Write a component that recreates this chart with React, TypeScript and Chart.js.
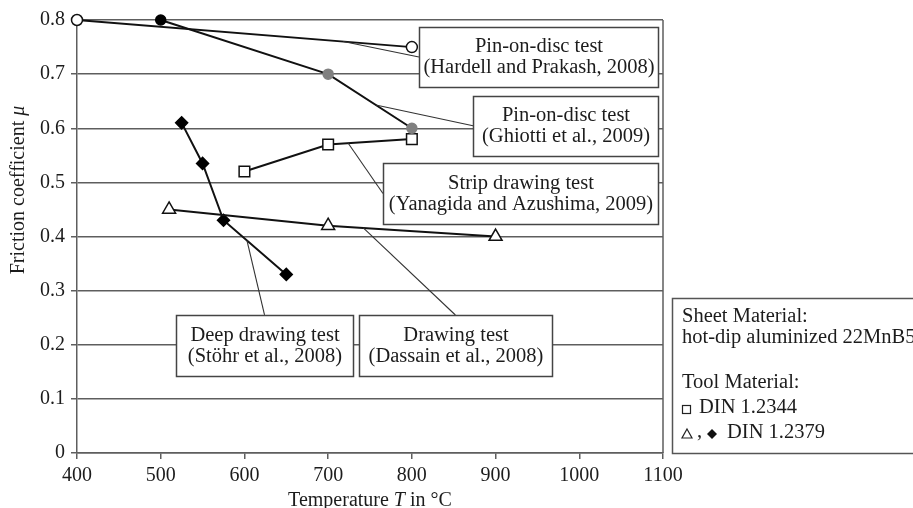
import React, { useEffect, useRef } from 'react';
import { Chart, registerables } from 'chart.js';
Chart.register(...registerables);

// ---- data ----
const xTickValues = [400, 500, 600, 700, 800, 900, 1000, 1100];
const yTickLabels = ['0', '0.1', '0.2', '0.3', '0.4', '0.5', '0.6', '0.7', '0.8'];

const hardellT = [400, 800];
const hardellMu = [0.80, 0.75];
const ghiottiT = [500, 700, 800];
const ghiottiMu = [0.80, 0.70, 0.60];
const yanagidaT = [600, 700, 800];
const yanagidaMu = [0.52, 0.57, 0.58];
const dassainT = [510, 700, 900];
const dassainMu = [0.45, 0.42, 0.40];
const stohrT = [525, 550, 575, 650];
const stohrMu = [0.61, 0.535, 0.43, 0.33];

const FONT = '"Liberation Serif", "Times New Roman", serif';
const GRID = '#5e5e5e';
const INK = '#1c1c1c';

const pts = (t: number[], m: number[]) => t.map((x, i) => ({ x, y: m[i] }));

// annotation boxes (data coordinates) and leader targets
const annotations = [
  { lines: ['Pin-on-disc test', '(Hardell and Prakash, 2008)'], box: [808.5, 1094, 0.787, 0.676], anchor: 'left', t: hardellT, m: hardellMu, leaderT: 718 },
  { lines: ['Pin-on-disc test', '(Ghiotti et al., 2009)'], box: [873, 1094, 0.660, 0.549], anchor: 'left', t: ghiottiT, m: ghiottiMu, leaderT: 757 },
  { lines: ['Strip drawing test', '(Yanagida and Azushima, 2009)'], box: [765.5, 1094, 0.536, 0.423], anchor: 'left', t: yanagidaT, m: yanagidaMu, leaderT: 724 },
  { lines: ['Drawing test', '(Dassain et al., 2008)'], box: [737, 967, 0.255, 0.142], anchor: 'top', t: dassainT, m: dassainMu, leaderT: 742 },
  { lines: ['Deep drawing test', '(Stöhr et al., 2008)'], box: [518, 730, 0.255, 0.142], anchor: 'top', t: stohrT, m: stohrMu, leaderT: 603 },
];

function interp(t: number[], m: number[], x: number) {
  for (let i = 0; i < t.length - 1; i++) {
    if (x >= t[i] && x <= t[i + 1]) {
      const f = (x - t[i]) / (t[i + 1] - t[i]);
      return m[i] + f * (m[i + 1] - m[i]);
    }
  }
  return m[m.length - 1];
}

function drawPieces(ctx: CanvasRenderingContext2D, pieces: { s: string; italic?: boolean }[], cx: number, cy: number, size: number) {
  const fonts = pieces.map(p => `${p.italic ? 'italic ' : ''}${size}px ${FONT}`);
  const widths = pieces.map((p, i) => { ctx.font = fonts[i]; return ctx.measureText(p.s).width; });
  const total = widths.reduce((a, b) => a + b, 0);
  let x = cx - total / 2;
  ctx.textAlign = 'left';
  ctx.textBaseline = 'middle';
  pieces.forEach((p, i) => {
    ctx.font = fonts[i];
    ctx.fillText(p.s, x, cy);
    x += widths[i];
  });
}

const overlay = {
  id: 'overlay',
  beforeDatasetsDraw(chart: any) {
    const { ctx, chartArea: a } = chart;
    ctx.save();
    ctx.strokeStyle = GRID;
    ctx.lineWidth = 1.5;
    ctx.beginPath();
    ctx.moveTo(a.right, a.top);
    ctx.lineTo(a.right, a.bottom);
    ctx.stroke();
    ctx.restore();
  },
  afterDatasetsDraw(chart: any) {
    const { ctx, chartArea: a, scales } = chart;
    const xs = scales.x, ys = scales.y;
    ctx.save();
    // leader lines
    ctx.strokeStyle = '#333';
    ctx.lineWidth = 1.1;
    annotations.forEach(an => {
      const [x0, x1, y0, y1] = an.box;
      const L = xs.getPixelForValue(x0), R = xs.getPixelForValue(x1);
      const T = ys.getPixelForValue(y0), B = ys.getPixelForValue(y1);
      const sx = an.anchor === 'left' ? L : (L + R) / 2;
      const sy = an.anchor === 'left' ? (T + B) / 2 : T;
      const ex = xs.getPixelForValue(an.leaderT);
      const ey = ys.getPixelForValue(interp(an.t, an.m, an.leaderT));
      ctx.beginPath();
      ctx.moveTo(sx, sy);
      ctx.lineTo(ex, ey);
      ctx.stroke();
    });
    // boxes
    annotations.forEach(an => {
      const [x0, x1, y0, y1] = an.box;
      const L = Math.round(xs.getPixelForValue(x0)) + 0.5, R = Math.round(xs.getPixelForValue(x1)) + 0.5;
      const T = Math.round(ys.getPixelForValue(y0)) + 0.5, B = Math.round(ys.getPixelForValue(y1)) + 0.5;
      ctx.fillStyle = '#fff';
      ctx.fillRect(L, T, R - L, B - T);
      ctx.strokeStyle = '#444';
      ctx.lineWidth = 1.5;
      ctx.strokeRect(L, T, R - L, B - T);
      ctx.fillStyle = INK;
      ctx.font = `20.5px ${FONT}`;
      ctx.textAlign = 'center';
      ctx.textBaseline = 'middle';
      const cx = (L + R) / 2, cy = (T + B) / 2;
      ctx.fillText(an.lines[0], cx, cy - 10.5);
      ctx.fillText(an.lines[1], cx, cy + 10.5);
    });
    // legend box (outside plot, on the right)
    const lx = a.right + 9, lt = a.bottom - 155, lb = a.bottom;
    ctx.fillStyle = '#fff';
    ctx.fillRect(lx, lt, 920 - lx, lb - lt);
    ctx.strokeStyle = '#555';
    ctx.lineWidth = 1.5;
    ctx.strokeRect(lx + 0.5, lt + 0.5, 930 - lx, lb - lt);
    ctx.fillStyle = INK;
    ctx.font = `20.5px ${FONT}`;
    ctx.textAlign = 'left';
    ctx.textBaseline = 'middle';
    const tx = lx + 10;
    ctx.fillText('Sheet Material:', tx, a.bottom - 136);
    ctx.fillText('hot-dip aluminized 22MnB5', tx, a.bottom - 115);
    ctx.fillText('Tool Material:', tx, a.bottom - 70);
    // square symbol
    let sy = a.bottom - 44;
    ctx.strokeStyle = '#222';
    ctx.lineWidth = 1.2;
    ctx.strokeRect(tx + 0.5, sy - 3.5, 8, 8);
    ctx.fillText('DIN 1.2344', tx + 17, a.bottom - 45);
    // triangle, diamond
    sy = a.bottom - 19;
    ctx.beginPath();
    ctx.moveTo(tx + 5, sy - 5);
    ctx.lineTo(tx + 10, sy + 4);
    ctx.lineTo(tx, sy + 4);
    ctx.closePath();
    ctx.stroke();
    ctx.fillText(',', tx + 15, a.bottom - 21);
    ctx.beginPath();
    ctx.moveTo(tx + 30, sy - 5);
    ctx.lineTo(tx + 35, sy);
    ctx.lineTo(tx + 30, sy + 5);
    ctx.lineTo(tx + 25, sy);
    ctx.closePath();
    ctx.fillStyle = '#111';
    ctx.fill();
    ctx.fillStyle = INK;
    ctx.fillText('DIN 1.2379', tx + 45, a.bottom - 20);
    // axis titles
    ctx.fillStyle = INK;
    drawPieces(ctx, [{ s: 'Temperature ' }, { s: 'T', italic: true }, { s: ' in °C' }], (a.left + a.right) / 2, a.bottom + 48, 20);
    ctx.save();
    ctx.translate(19, 190);
    ctx.rotate(-Math.PI / 2);
    drawPieces(ctx, [{ s: 'Friction coefficient ' }, { s: 'μ', italic: true }], 0, 0, 20);
    ctx.restore();
    ctx.restore();
  },
};

export default function App() {
  const ref = useRef<HTMLCanvasElement>(null);
  useEffect(() => {
    const line = { borderColor: '#111', borderWidth: 2, showLine: true, clip: false as any, pointBorderWidth: 1.5 };
    const chart = new Chart(ref.current as HTMLCanvasElement, {
      type: 'line',
      data: {
        datasets: [
          { ...line, label: 'Hardell', data: pts(hardellT, hardellMu), pointStyle: 'circle', pointRadius: 5.5, pointBackgroundColor: '#fff', pointBorderColor: '#111', borderWidth: 1.8 },
          { ...line, label: 'Ghiotti', data: pts(ghiottiT, ghiottiMu), pointStyle: 'circle', pointRadius: 5, pointBackgroundColor: ['#000', '#808080', '#808080'], pointBorderColor: ['#000', '#808080', '#808080'] },
          { ...line, label: 'Yanagida', data: pts(yanagidaT, yanagidaMu), pointStyle: 'rect', pointRadius: 7.5, pointBackgroundColor: '#fff', pointBorderColor: '#111' },
          { ...line, label: 'Dassain', data: pts(dassainT, dassainMu), pointStyle: 'triangle', pointRadius: 7.5, pointBackgroundColor: '#fff', pointBorderColor: '#111' },
          { ...line, label: 'Stohr', data: pts(stohrT, stohrMu), pointStyle: 'rectRot', pointRadius: 6, pointBackgroundColor: '#000', pointBorderColor: '#000' },
        ],
      },
      options: {
        responsive: false,
        animation: false,
        devicePixelRatio: 1,
        layout: { padding: { left: 0, top: 20, right: 250, bottom: 0 } },
        plugins: { legend: { display: false }, tooltip: { enabled: false } },
        elements: { line: { tension: 0 } },
        scales: {
          x: {
            type: 'linear',
            min: 400,
            max: 1100,
            afterFit: (s: any) => { s.height = 55; },
            afterBuildTicks: (s: any) => { s.ticks = xTickValues.map(v => ({ value: v })); },
            ticks: { font: { family: FONT, size: 20 }, color: INK, padding: 5, maxRotation: 0, autoSkip: false, callback: (v: any) => String(v) },
            grid: { drawOnChartArea: false, drawTicks: true, tickLength: 6, color: GRID, lineWidth: 1.5 },
            border: { display: true, color: GRID, width: 1.5 },
          },
          y: {
            type: 'linear',
            min: 0,
            max: 0.8,
            afterFit: (s: any) => { s.width = 77; },
            ticks: { stepSize: 0.1, font: { family: FONT, size: 20 }, color: INK, padding: 6, callback: (v: any) => yTickLabels[Math.round(Number(v) * 10)] ?? '' },
            grid: { color: GRID, lineWidth: 1.5, tickLength: 6 },
            border: { display: true, color: GRID, width: 1.5 },
          },
        },
      },
      plugins: [overlay],
    } as any);
    return () => chart.destroy();
  }, []);
  return (
    <div style={{ position: 'fixed', left: 0, top: 0, width: 913, height: 508, background: '#fff', overflow: 'hidden' }}>
      <canvas ref={ref} width={913} height={508} style={{ width: 913, height: 508, display: 'block' }} />
    </div>
  );
}
